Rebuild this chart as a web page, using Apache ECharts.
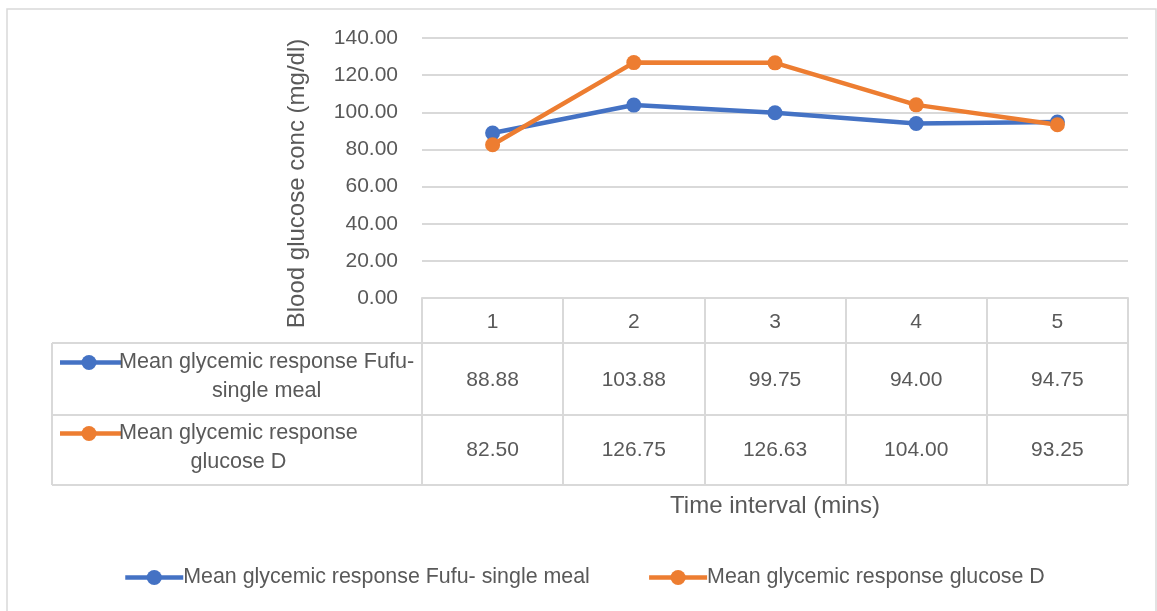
<!DOCTYPE html>
<html>
<head>
<meta charset="utf-8">
<script src="https://cdn.jsdelivr.net/npm/echarts@6/dist/echarts.min.js"></script>
<style>
  html, body { margin: 0; padding: 0; background: #ffffff; }
  #chart { width: 1157px; height: 611px; }
</style>
</head>
<body>
<div id="chart"></div>
<script>
// Time points (categories on the x axis)
const categories = ['1', '2', '3', '4', '5'];
// Mean blood glucose (mg/dl) at each time point
const fufuValues = [88.88, 103.88, 99.75, 94.00, 94.75];
const glucoseValues = [82.50, 126.75, 126.63, 104.00, 93.25];
const seriesNames = ['Mean glycemic response Fufu- single meal', 'Mean glycemic response glucose D'];
// Row captions in the data table (wrapped as in the table)
const rowCaptions = [
  ['Mean glycemic response Fufu-', 'single meal'],
  ['Mean glycemic response', 'glucose D']
];
const seriesColors = ['#4472C4', '#ED7D31'];
const yMin = 0, yMax = 140, yStep = 20;

const FONT = 'Liberation Sans';
const TEXT = '#595959';
const RULE = '#d9d9d9';

const chart = echarts.init(document.getElementById('chart'), null, { renderer: 'canvas' });

// Row geometry of the data table below the plot (offsets from the zero line)
const headerH = 45, row1H = 72, row2H = 70;

function valueAxis(offset, values) {
  return {
    type: 'category',
    data: categories,
    position: 'bottom',
    offset: offset,
    boundaryGap: true,
    axisLine: { show: false },
    axisTick: { show: false },
    splitLine: { show: false },
    axisLabel: {
      margin: 0,
      interval: 0,
      fontFamily: FONT,
      fontSize: 21,
      color: TEXT,
      formatter: (v, i) => values[i].toFixed(2)
    }
  };
}

chart.setOption({
  backgroundColor: '#ffffff',
  animation: false,
  textStyle: { fontFamily: FONT },
  grid: { left: 422, right: 29, top: 38, bottom: 313 },
  xAxis: [
    {
      type: 'category',
      data: categories,
      boundaryGap: true,
      name: 'Time interval (mins)',
      nameLocation: 'middle',
      nameGap: 196,
      nameTextStyle: { fontFamily: FONT, fontSize: 24, color: TEXT },
      axisLine: { show: true, lineStyle: { color: RULE, width: 2 } },
      axisTick: { show: true, interval: 0, length: headerH + row1H + row2H, lineStyle: { color: RULE, width: 2 } },
      axisLabel: { margin: 14, interval: 0, fontFamily: FONT, fontSize: 21, color: TEXT }
    },
    valueAxis(headerH + row1H / 2 - 9, fufuValues),
    valueAxis(headerH + row1H + row2H / 2 - 10, glucoseValues)
  ],
  yAxis: {
    type: 'value',
    min: yMin,
    max: yMax,
    interval: yStep,
    axisLine: { show: false },
    axisTick: { show: false },
    splitLine: { lineStyle: { color: RULE, width: 2 } },
    axisLabel: {
      margin: 24,
      fontFamily: FONT,
      fontSize: 21,
      color: TEXT,
      formatter: v => v.toFixed(2)
    }
  },
  legend: {
    left: 118,
    top: 562,
    itemWidth: 58,
    itemHeight: 19,
    itemGap: 57,
    lineStyle: { width: 4.5 },
    textStyle: { fontFamily: FONT, fontSize: 21.4, color: TEXT, padding: [0, 0, 0, -5] },
    data: seriesNames
  },
  series: [
    {
      name: seriesNames[0],
      type: 'line',
      data: fufuValues,
      symbol: 'circle',
      symbolSize: 15,
      color: seriesColors[0],
      lineStyle: { width: 4.5, color: seriesColors[0] },
      itemStyle: { color: seriesColors[0] }
    },
    {
      name: seriesNames[1],
      type: 'line',
      data: glucoseValues,
      symbol: 'circle',
      symbolSize: 15,
      color: seriesColors[1],
      lineStyle: { width: 4.5, color: seriesColors[1] },
      itemStyle: { color: seriesColors[1] }
    }
  ]
});

// Table rules and row captions, anchored to the plot's own scales
const c0 = chart.convertToPixel({ xAxisIndex: 0 }, categories[0]);
const c1 = chart.convertToPixel({ xAxisIndex: 0 }, categories[1]);
const band = c1 - c0;
const plotRight = c0 - band / 2 + band * categories.length;
const y0 = chart.convertToPixel({ yAxisIndex: 0 }, yMin);
const yTop = chart.convertToPixel({ yAxisIndex: 0 }, yMax);
const tableLeft = 52;
const rowTops = [y0 + headerH, y0 + headerH + row1H];
const tableBottom = y0 + headerH + row1H + row2H;

const CAPTION_SIZE = 21.6;
const measure = document.createElement('canvas').getContext('2d');
measure.font = CAPTION_SIZE + 'px "' + FONT + '"';

const elements = [
  // chart frame
  { type: 'rect', shape: { x: 7, y: 9, width: 1149, height: 640 },
    style: { fill: null, stroke: RULE, lineWidth: 1.5 }, silent: true },
  // y-axis title
  { type: 'text', x: 297, y: (yTop + rowTops[0]) / 2 - 7, rotation: Math.PI / 2,
    style: { text: 'Blood glucose conc (mg/dl)', fontFamily: FONT, fontSize: 24, fill: TEXT,
             align: 'center', verticalAlign: 'middle' } }
];
[rowTops[0], rowTops[1], tableBottom].forEach(y => {
  elements.push({ type: 'line', shape: { x1: tableLeft, y1: y, x2: plotRight, y2: y },
                  style: { stroke: RULE, lineWidth: 2 }, silent: true });
});
elements.push({ type: 'line', shape: { x1: tableLeft, y1: rowTops[0], x2: tableLeft, y2: tableBottom },
                style: { stroke: RULE, lineWidth: 2 }, silent: true });

const rowHeights = [row1H, row2H];
rowCaptions.forEach((lines, i) => {
  const lineH = 29;
  const mid = rowTops[i] + rowHeights[i] / 2 - 2;
  const firstY = mid - lineH / 2;
  const textLeft = 119;
  const blockW = Math.max(...lines.map(l => measure.measureText(l).width));
  // legend key
  elements.push({ type: 'line', shape: { x1: 60, y1: firstY, x2: 121, y2: firstY },
                  style: { stroke: seriesColors[i], lineWidth: 4.5 }, silent: true });
  elements.push({ type: 'circle', shape: { cx: 89, cy: firstY, r: 7.5 },
                  style: { fill: seriesColors[i] }, silent: true });
  lines.forEach((t, k) => {
    elements.push({ type: 'text', x: textLeft + blockW / 2, y: firstY + k * lineH,
                    style: { text: t, fontFamily: FONT, fontSize: CAPTION_SIZE, fill: TEXT,
                             align: 'center', verticalAlign: 'middle' } });
  });
});

chart.setOption({ graphic: { elements: elements } });
</script>
</body>
</html>
